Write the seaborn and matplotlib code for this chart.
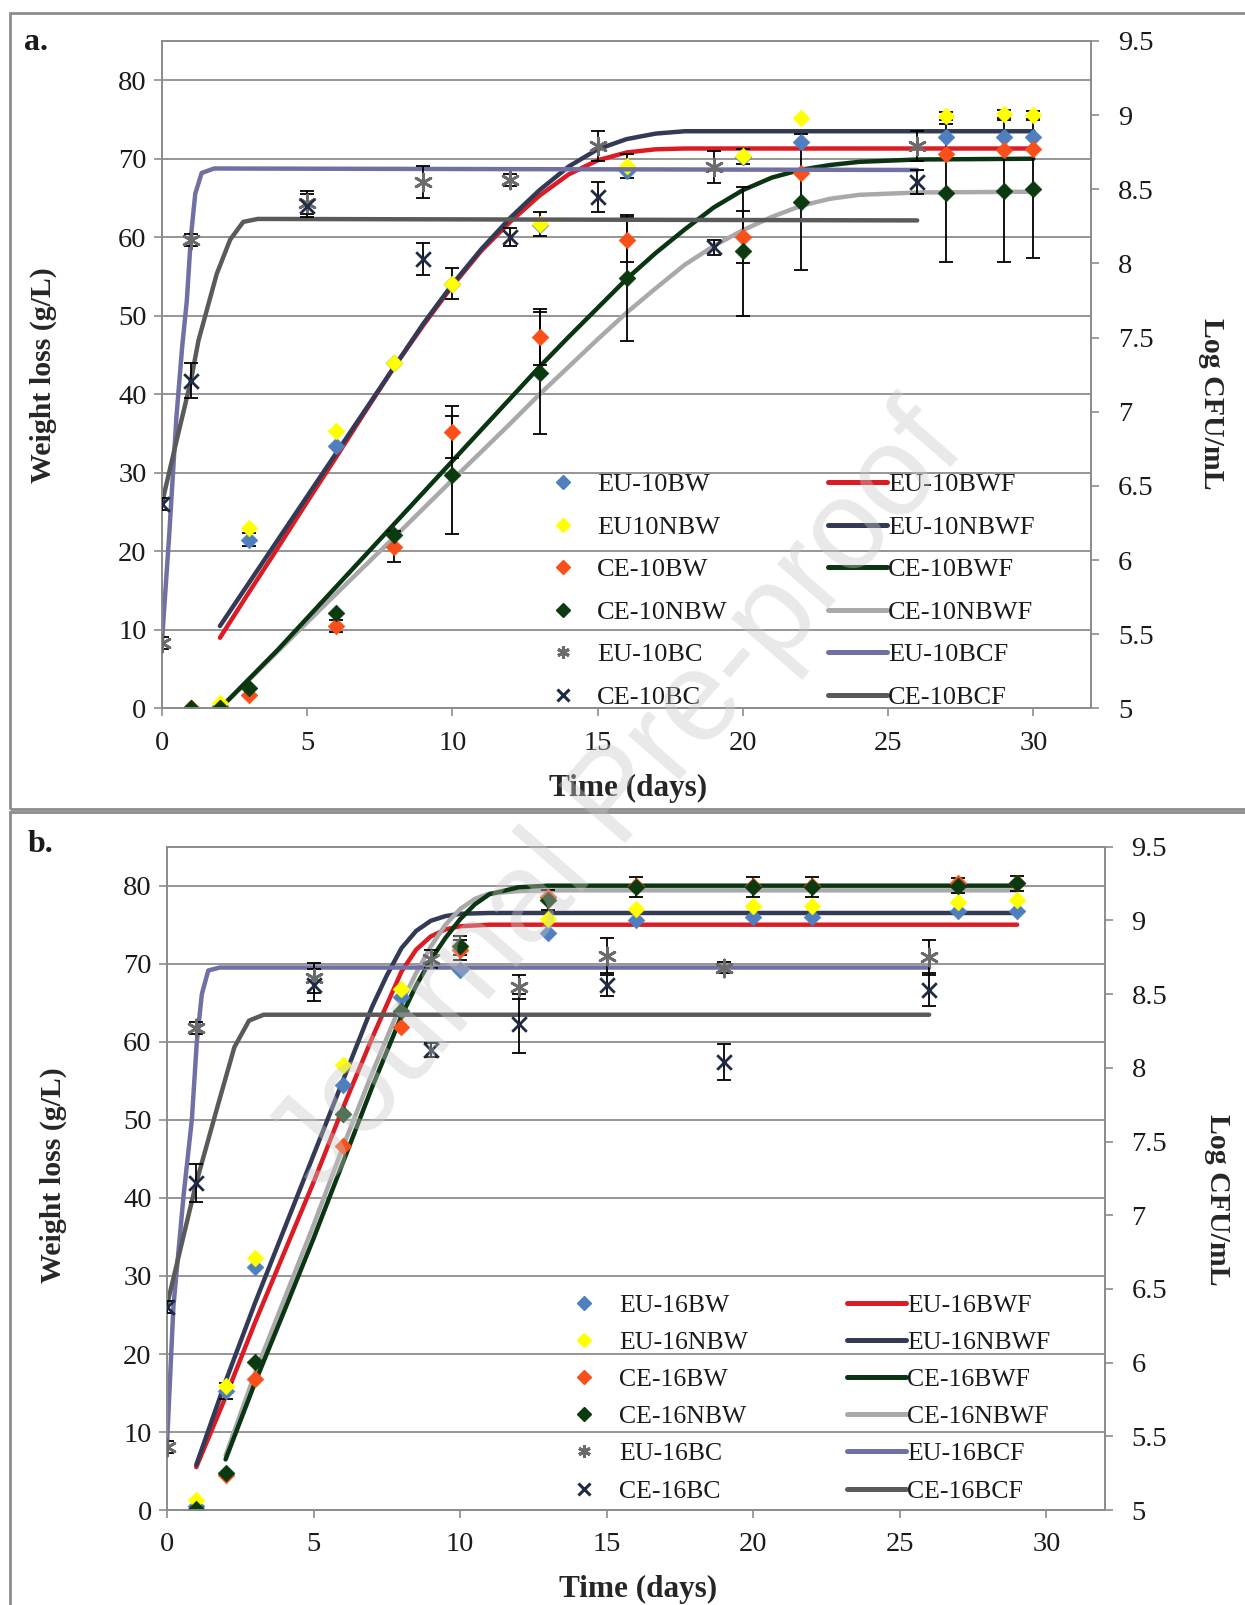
import numpy as np
import pandas as pd
import matplotlib
matplotlib.use("Agg")
import matplotlib.pyplot as plt
import seaborn as sns
from matplotlib.lines import Line2D
from matplotlib.patches import Rectangle

# ---------------- panel a (10 °Brix) ----------------
a_days = [1, 2, 3, 6, 8, 10, 13, 16, 20, 22, 27, 29, 30]
a_eu_bw = [0.0, 0.3, 21.5, 33.4, 44.0, 54.0, 61.5, 68.5, 70.2, 72.1, 72.8, 72.8, 72.8]
a_eu_bw_err = [0, 0, 0.8, 0, 0, 0, 0, 0, 0, 0, 0, 0, 0]
a_eu_nbw = [0.0, 0.7, 23.0, 35.3, 44.0, 54.1, 61.7, 69.1, 70.3, 75.2, 75.4, 75.7, 75.6]
a_eu_nbw_err = [0, 0, 0, 0, 0, 2.0, 1.5, 1.5, 1.0, 0, 0.5, 0.5, 0.5]
a_ce_bw = [0.0, 0.0, 1.7, 10.5, 20.6, 35.2, 47.3, 59.7, 60.0, 68.2, 70.6, 71.1, 71.2]
a_ce_bw_err = [0, 0, 0, 0.8, 2.0, 3.3, 3.6, 2.9, 3.3, 0, 0, 0, 0]
a_ce_nbw = [0.0, 0.0, 2.6, 12.1, 22.1, 29.7, 42.7, 54.8, 58.2, 64.5, 65.6, 65.9, 66.1]
a_ce_nbw_err = [0, 0, 0, 0, 0, 7.5, 7.8, 8.0, 8.2, 8.7, 8.8, 9.0, 8.8]

a_bc_days = [0, 1, 5, 9, 12, 15, 19, 26]
a_eu_bc = [5.44, 8.16, 8.41, 8.55, 8.56, 8.79, 8.65, 8.79]
a_eu_bc_err = [0.04, 0.04, 0.08, 0.11, 0.04, 0.10, 0.11, 0.10]
a_ce_bc = [6.38, 7.21, 8.39, 8.03, 8.18, 8.45, 8.11, 8.55]
a_ce_bc_err = [0.04, 0.12, 0.08, 0.11, 0.06, 0.10, 0.05, 0.08]

a_fit_eu_x = [2, 3, 4, 5, 6, 7, 8, 9, 10, 11, 12, 13, 14, 15, 16, 17, 18, 20, 30]
a_fit_eu_bw = [9.0, 14.8, 20.5, 26.3, 32.0, 37.8, 43.5, 48.8, 53.8, 58.3, 62.0, 65.3,
               68.0, 69.8, 70.8, 71.2, 71.3, 71.3, 71.3]
a_fit_eu_nbw = [10.5, 16.0, 21.5, 27.0, 32.5, 38.0, 43.5, 49.0, 54.0, 58.5, 62.5, 66.0,
                69.0, 71.2, 72.5, 73.2, 73.5, 73.5, 73.5]
a_fit_ce_x = [2, 4, 6, 8, 10, 12, 13, 14, 15, 16, 17, 18, 19, 20, 21, 22, 23, 24, 26, 30]
a_fit_ce_bw = [0.0, 7.5, 15.5, 23.5, 31.5, 39.5, 43.5, 47.3, 51.0, 54.7, 58.0, 61.0, 63.8,
               66.0, 67.6, 68.6, 69.2, 69.6, 69.9, 70.0]
a_fit_ce_nbw = [0.0, 7.3, 14.6, 21.8, 29.1, 36.3, 40.0, 43.5, 47.0, 50.4, 53.5, 56.5, 58.9,
                60.9, 62.6, 64.0, 64.9, 65.4, 65.7, 65.8]
a_fit_eu_bc_x = [0, 0.25, 0.5, 0.7, 0.86, 1.0, 1.15, 1.37, 1.8, 26]
a_fit_eu_bc = [5.44, 6.16, 6.96, 7.44, 7.75, 8.18, 8.47, 8.61, 8.64, 8.63]
a_fit_ce_bc_x = [0, 0.5, 1.0, 1.26, 1.89, 2.35, 2.8, 3.3, 26]
a_fit_ce_bc = [6.38, 6.80, 7.21, 7.48, 7.93, 8.16, 8.28, 8.30, 8.29]

a_point_labels = ["EU-10BW", "EU10NBW", "CE-10BW", "CE-10NBW", "EU-10BC", "CE-10BC"]
a_fit_labels = ["EU-10BWF", "EU-10NBWF", "CE-10BWF", "CE-10NBWF", "EU-10BCF", "CE-10BCF"]

# ---------------- panel b (16 °Brix) ----------------
b_days = [1, 2, 3, 6, 8, 10, 13, 16, 20, 22, 27, 29]
b_eu_bw = [0.5, 15.3, 31.1, 54.5, 65.8, 69.2, 73.9, 75.6, 76.0, 76.0, 76.7, 76.7]
b_eu_bw_err = [0, 1.0, 0, 0, 0, 0, 0, 0, 0, 0, 0, 0]
b_eu_nbw = [1.3, 15.9, 32.3, 57.0, 66.8, 72.0, 75.7, 77.0, 77.4, 77.4, 77.9, 78.2]
b_eu_nbw_err = [0, 0, 0, 0, 0, 0, 0, 0, 0, 0, 0, 0]
b_ce_bw = [0.0, 4.5, 16.8, 46.6, 61.9, 71.8, 78.6, 80.0, 80.0, 80.0, 80.3, 80.4]
b_ce_bw_err = [0, 0, 0, 0, 0, 1.3, 0, 0, 0, 0, 0, 0]
b_ce_nbw = [0.2, 4.8, 19.0, 50.8, 63.9, 72.3, 78.2, 79.8, 79.8, 79.8, 80.0, 80.3]
b_ce_nbw_err = [0, 0, 0, 0, 0, 1.2, 1.3, 1.3, 1.3, 1.3, 1.0, 1.0]

b_bc_days = [0, 1, 5, 9, 12, 15, 19, 26]
b_eu_bc = [5.43, 8.27, 8.61, 8.74, 8.55, 8.76, 8.68, 8.75]
b_eu_bc_err = [0.04, 0.04, 0.10, 0.06, 0.08, 0.12, 0.04, 0.12]
b_ce_bc = [6.38, 7.22, 8.56, 8.12, 8.30, 8.56, 8.04, 8.53]
b_ce_bc_err = [0.04, 0.13, 0.11, 0.05, 0.20, 0.07, 0.12, 0.11]

b_fit_eu_nbw_x = [1, 2, 3, 4, 5, 6, 7, 7.5, 8, 8.5, 9, 9.5, 10, 11, 29]
b_fit_eu_nbw = [5.8, 16.5, 26.5, 36.0, 45.5, 55.0, 64.5, 68.5, 72.0, 74.2, 75.5, 76.1,
                76.4, 76.5, 76.5]
b_fit_eu_bw_x = [1, 2, 3, 4, 5, 6, 7, 8, 8.5, 9, 9.5, 10, 11, 29]
b_fit_eu_bw = [5.5, 14.5, 24.0, 33.0, 42.0, 51.5, 60.5, 69.0, 71.8, 73.5, 74.4, 74.8, 75.0, 75.0]
b_fit_ce_x = [2, 3, 4, 5, 6, 7, 8, 8.5, 9, 9.5, 10, 10.5, 11, 12, 13, 29]
b_fit_ce_nbw = [7.0, 17.5, 27.0, 36.5, 46.5, 56.0, 65.0, 68.8, 72.2, 75.0, 77.0, 78.3,
                79.0, 79.3, 79.4, 79.4]
b_fit_ce_bw = [6.5, 16.3, 25.5, 34.8, 44.5, 54.2, 63.3, 67.2, 70.5, 73.3, 75.7, 77.6,
               78.9, 79.8, 80.0, 80.0]
b_fit_eu_bc_x = [0, 0.22, 0.57, 0.85, 1.02, 1.19, 1.41, 1.8, 26]
b_fit_eu_bc = [5.44, 6.38, 7.14, 7.65, 8.18, 8.50, 8.66, 8.68, 8.68]
b_fit_ce_bc_x = [0, 1.0, 1.7, 2.3, 2.8, 3.3, 5, 26]
b_fit_ce_bc = [6.39, 7.22, 7.72, 8.14, 8.32, 8.36, 8.36, 8.36]

b_point_labels = ["EU-16BW", "EU-16NBW", "CE-16BW", "CE-16NBW", "EU-16BC", "CE-16BC"]
b_fit_labels = ["EU-16BWF", "EU-16NBWF", "CE-16BWF", "CE-16NBWF", "EU-16BCF", "CE-16BCF"]

# colours
C_BLUE = "#4f7fbf"
C_YELLOW = "#ffff00"
C_ORANGE = "#f9501b"
C_DKGREEN = "#0b3a10"
C_EUBC = "#6b6b6b"
C_CEBC = "#1f2a44"
C_RED = "#dc1c24"
C_NAVY = "#323a56"
C_GREEN_FIT = "#0a3512"
C_GREY_FIT = "#a9a9a9"
C_PURPLE = "#7070a4"
C_DKGREY = "#5a5a5a"
GRID = "#8c8c8c"

W, H = 1245, 1605
sns.set_theme(style="white")
plt.rcParams["font.family"] = ["Liberation Serif", "DejaVu Serif"]
plt.rcParams["text.color"] = "#1a1a1a"

fig = plt.figure(figsize=(W / 100, H / 100), dpi=100)
fig.patch.set_facecolor("white")


def fx(px):
    return px / W


def fy(py):
    return 1 - py / H


ASTER = (6, 2, 0)
TICK_FS = 20.5


def err_bars(ax, x, y, e):
    x, y, e = np.array(x, float), np.array(y, float), np.array(e, float)
    m = e > 0
    if m.any():
        ax.errorbar(x[m], y[m], yerr=e[m], fmt="none", ecolor="black",
                    elinewidth=1.3, capsize=5, capthick=1.3, zorder=3)


def draw_panel(ax, days, weights, bc_days, bcs, fits, bc_fits):
    ax2 = ax.twinx()
    ax.set_xlim(0, 32)
    ax.set_ylim(0, 85)
    ax2.set_ylim(5, 9.5)
    ax.set_yticks(range(0, 81, 10))
    ax2.set_yticks(np.arange(5, 9.51, 0.5))
    ax2.set_yticklabels([f"{v:g}" for v in np.arange(5, 9.51, 0.5)])
    ax.set_xticks(range(0, 31, 5))
    for y in range(10, 81, 10):
        ax.axhline(y, color=GRID, lw=1.3, zorder=0.5)

    # fitted curves
    for (fx_, fy_, c) in fits:
        sns.lineplot(x=fx_, y=fy_, ax=ax, color=c, linewidth=3.2, sort=False,
                     estimator=None, zorder=2, legend=False)
    # weight-loss points
    for (vals, errs, c) in weights:
        err_bars(ax, days, vals, errs)
        sns.scatterplot(x=days, y=vals, ax=ax, marker="D", s=72, color=c,
                        edgecolor=c, linewidth=0.5, zorder=4, legend=False)

    # microbial counts on right axis
    for (fx_, fy_, c) in bc_fits:
        sns.lineplot(x=fx_, y=fy_, ax=ax2, color=c, linewidth=3.2, sort=False,
                     estimator=None, zorder=2, legend=False)
    for (vals, errs, c, mk, sz) in bcs:
        err_bars(ax2, bc_days, vals, errs)
        ax2.scatter(bc_days, vals, marker=mk, s=sz, color=c, linewidths=2.0, zorder=4)

    for a in (ax, ax2):
        for sp in a.spines.values():
            sp.set_color(GRID)
            sp.set_linewidth(1.3)
    ax.tick_params(axis="y", direction="out", length=6, width=1.2, color=GRID,
                   labelsize=TICK_FS, pad=5, labelcolor="#1a1a1a", left=True)
    ax.tick_params(axis="x", direction="out", length=6, width=1.2, color=GRID,
                   labelsize=TICK_FS, pad=10, labelcolor="#1a1a1a", bottom=True)
    ax2.tick_params(axis="y", direction="out", length=6, width=1.2, color=GRID,
                    labelsize=TICK_FS, pad=13, labelcolor="#1a1a1a", right=True)
    ax.grid(False)
    ax2.grid(False)
    return ax2


def add_legends(pt_labels, fit_labels, x_mk, x_line, y_top, fs, spacing, tpad, hlen):
    pt_handles = [
        Line2D([], [], ls="", marker="D", ms=7, color=C_BLUE),
        Line2D([], [], ls="", marker="D", ms=7, color=C_YELLOW),
        Line2D([], [], ls="", marker="D", ms=7, color=C_ORANGE),
        Line2D([], [], ls="", marker="D", ms=7, color=C_DKGREEN),
        Line2D([], [], ls="", marker=ASTER, ms=9, mew=2.2, color=C_EUBC),
        Line2D([], [], ls="", marker="x", ms=8, mew=2.2, color=C_CEBC),
    ]
    fit_handles = [Line2D([], [], color=c, lw=3.6)
                   for c in (C_RED, C_NAVY, C_GREEN_FIT, C_GREY_FIT, C_PURPLE, C_DKGREY)]
    fig.legend(pt_handles, pt_labels, loc="upper left",
               bbox_to_anchor=(fx(x_mk), fy(y_top)), bbox_transform=fig.transFigure,
               frameon=False, borderpad=0, borderaxespad=0, handlelength=1.0,
               handletextpad=tpad, labelspacing=spacing, fontsize=fs)
    fig.legend(fit_handles, fit_labels, loc="upper left",
               bbox_to_anchor=(fx(x_line), fy(y_top)), bbox_transform=fig.transFigure,
               frameon=False, borderpad=0, borderaxespad=0, handlelength=hlen,
               handletextpad=0.05, labelspacing=spacing, fontsize=fs)


# outer frames
fig.patches.append(Rectangle((fx(10), fy(809)), 1.2, (809 - 13) / H, fill=False,
                             edgecolor=GRID, lw=2, transform=fig.transFigure))
fig.patches.append(Rectangle((fx(10), fy(1640)), 1.2, (1640 - 812) / H, fill=False,
                             edgecolor=GRID, lw=2, transform=fig.transFigure))

# panel a
ax_a = fig.add_axes([0.130, 0.5586, 0.8767 - 0.130, 0.9745 - 0.5586])
ax2_a = draw_panel(
    ax_a, a_days,
    [(a_eu_bw, a_eu_bw_err, C_BLUE), (a_eu_nbw, a_eu_nbw_err, C_YELLOW),
     (a_ce_bw, a_ce_bw_err, C_ORANGE), (a_ce_nbw, a_ce_nbw_err, C_DKGREEN)],
    a_bc_days,
    [(a_eu_bc, a_eu_bc_err, C_EUBC, ASTER, 150), (a_ce_bc, a_ce_bc_err, C_CEBC, "x", 110)],
    [(a_fit_eu_x, a_fit_eu_bw, C_RED), (a_fit_eu_x, a_fit_eu_nbw, C_NAVY),
     (a_fit_ce_x, a_fit_ce_nbw, C_GREY_FIT), (a_fit_ce_x, a_fit_ce_bw, C_GREEN_FIT)],
    [(a_fit_eu_bc_x, a_fit_eu_bc, C_PURPLE), (a_fit_ce_bc_x, a_fit_ce_bc, C_DKGREY)],
)

# panel b
ax_b = fig.add_axes([0.1341, 0.0591, 0.8876 - 0.1341, 0.4725 - 0.0591])
ax2_b = draw_panel(
    ax_b, b_days,
    [(b_eu_bw, b_eu_bw_err, C_BLUE), (b_eu_nbw, b_eu_nbw_err, C_YELLOW),
     (b_ce_bw, b_ce_bw_err, C_ORANGE), (b_ce_nbw, b_ce_nbw_err, C_DKGREEN)],
    b_bc_days,
    [(b_eu_bc, b_eu_bc_err, C_EUBC, ASTER, 150), (b_ce_bc, b_ce_bc_err, C_CEBC, "x", 110)],
    [(b_fit_eu_bw_x, b_fit_eu_bw, C_RED), (b_fit_eu_nbw_x, b_fit_eu_nbw, C_NAVY),
     (b_fit_ce_x, b_fit_ce_nbw, C_GREY_FIT), (b_fit_ce_x, b_fit_ce_bw, C_GREEN_FIT)],
    [(b_fit_eu_bc_x, b_fit_eu_bc, C_PURPLE), (b_fit_ce_bc_x, b_fit_ce_bc, C_DKGREY)],
)

# axis labels
for ax, ax2, xl, yl, yr in ((ax_a, ax2_a, (628, 788), (43, 375), (1211, 404)),
                            (ax_b, ax2_b, (638, 1589), (53, 1175), (1218, 1200))):
    ax.set_xlabel("Time (days)", fontsize=22.5, fontweight="bold")
    ax.xaxis.set_label_coords(fx(xl[0]), fy(xl[1]), transform=fig.transFigure)
    ax.xaxis.label.set_va("center")
    ax.set_ylabel("Weight loss (g/L)", fontsize=21.5, fontweight="bold")
    ax.yaxis.set_label_coords(fx(yl[0]), fy(yl[1]), transform=fig.transFigure)
    ax.yaxis.label.set_va("center")
    ax2.set_ylabel("Log CFU/mL", fontsize=21.5, fontweight="bold", rotation=270)
    ax2.yaxis.set_label_coords(fx(yr[0]), fy(yr[1]), transform=fig.transFigure)
    ax2.yaxis.label.set_va("center")

fig.text(fx(24), fy(43), "a.", fontsize=23, fontweight="bold", va="center", ha="left")
fig.text(fx(28), fy(845), "b.", fontsize=23, fontweight="bold", va="center", ha="left")

# legends
add_legends(a_point_labels, a_fit_labels, 550, 828, 473, 19, 0.72, 0.79, 2.23)
add_legends(b_point_labels, b_fit_labels, 571, 847, 1294, 18.5, 0.55, 0.86, 2.3)

# watermark
fig.text(fx(619), fy(799), "Journal Pre-proof", fontsize=92, rotation=49,
         family=["Liberation Sans", "DejaVu Sans"], color="#c8c8c8", alpha=0.4,
         ha="center", va="center", zorder=20)

fig.savefig("out.png", dpi=100)
